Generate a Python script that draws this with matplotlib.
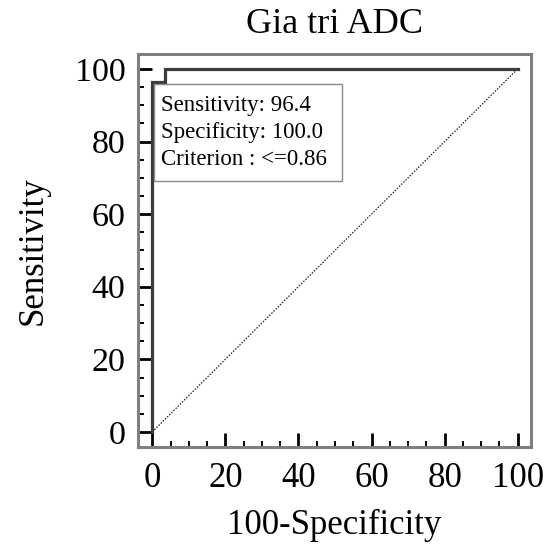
import matplotlib
matplotlib.use("Agg")
import matplotlib.pyplot as plt
from matplotlib.patches import Rectangle
from matplotlib.ticker import MultipleLocator

plt.rcParams['font.family'] = ['Liberation Serif', 'DejaVu Serif']

# ROC curve points (100-Specificity, Sensitivity)
fpr = [0, 0, 3.6, 3.6, 100]
tpr = [0, 96.4, 96.4, 100, 100]
chance = [0, 100]
box_lines = ["Sensitivity: 96.4", "Specificity: 100.0", "Criterion : <=0.86"]

fig = plt.figure(figsize=(5.53, 5.51), dpi=100)
ax = fig.add_axes([0.2495, 0.189, 0.7105, 0.713])

ax.plot(chance, chance, color='#222222', linestyle=(0, (1.2, 1.2)), linewidth=0.9)
ax.plot(fpr, tpr, color='#3c3c3c', linewidth=2.3, solid_joinstyle='miter')

ax.set_xlim(-3.9, 103.6)
ax.set_ylim(-4.1, 104.1)

# info box
ax.add_patch(Rectangle((0.4, 69.1), 51.5, 26.8, facecolor='white',
                       edgecolor='#8a8a8a', linewidth=1.0, zorder=3))
for i, line in enumerate(box_lines):
    ax.text(2.3, 89.8 - i * 7.35, line, fontsize=16.5, va='center', ha='left', zorder=4)

for s in ax.spines.values():
    s.set_color('#7f7f7f')
    s.set_linewidth(2.2)

ax.xaxis.set_major_locator(MultipleLocator(20))
ax.yaxis.set_major_locator(MultipleLocator(20))
ax.xaxis.set_minor_locator(MultipleLocator(5))
ax.yaxis.set_minor_locator(MultipleLocator(5))
ax.tick_params(which='major', direction='in', length=10, width=2.0, color='black')
ax.tick_params(which='minor', direction='in', length=4.5, width=1.4, color='black')
ax.tick_params(axis='x', which='major', labelsize=25, pad=11)
ax.tick_params(axis='y', which='major', labelsize=24.5, pad=9)
ax.tick_params(top=False, right=False, which='both')

ax.set_title("Gia tri ADC", fontsize=26, pad=15)
ax.set_xlabel("100-Specificity", fontsize=25, labelpad=10)
ax.set_ylabel("Sensitivity", fontsize=25, labelpad=18)

fig.savefig("out.png", dpi=100)
